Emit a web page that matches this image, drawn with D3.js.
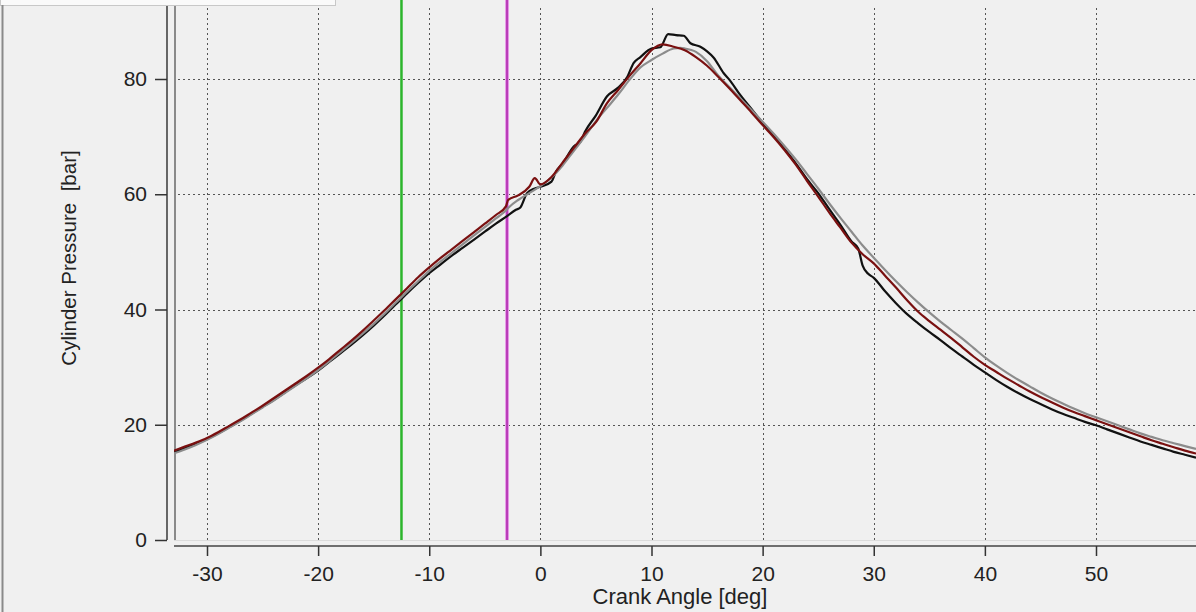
<!DOCTYPE html>
<html><head><meta charset="utf-8">
<script src="https://cdn.jsdelivr.net/npm/d3@7"></script>
<style>
html,body{margin:0;padding:0;background:#f0f0f0;}
svg{display:block;font-family:"Liberation Sans",Arial,sans-serif;}
</style></head>
<body>
<svg id="c" width="1196" height="612"></svg>
<script>
const xTicks = [-30,-20,-10,0,10,20,30,40,50];
const yTicks = [0,20,40,60,80];
const markerGreen = -12.5;
const markerMagenta = -3;

const blackAngle = [-33,-32,-31,-30,-29,-28,-27,-26,-25,-24,-23,-22,-21,-20,-19,-18,-17,-16,-15,-14,-13,-12,-11,-10,-9,-8,-7,-6,-5,-4,-3,-2.2,-1.8,-1.2,-0.5,0,1,1.4,2,3,3.6,4,5,6,7,7.8,8.4,9,10,10.8,11.5,12.2,12.9,13.5,14.4,15,15.6,16.5,17,18,19,20,21,22,23,24,25,26,27,28,28.6,29,29.5,30,31,32,33,34,35,36,37,38,39,40,41,42,43,44,45,46,47,48,49,50,51,52,53,54,55,56,57,58,59];
const blackP = [15.2,15.9,16.7,17.5,18.5,19.6,20.7,21.9,23.1,24.3,25.6,26.9,28.1,29.4,30.9,32.4,33.9,35.5,37.2,39.0,40.9,42.8,44.6,46.3,47.8,49.3,50.7,52.1,53.5,54.9,56.2,57.3,57.7,60.2,61.0,61.3,62.2,63.9,65.3,68.3,69.1,70.8,73.7,77.0,78.5,80.3,82.8,83.8,85.3,85.5,87.8,87.6,87.5,86.2,85.6,84.8,83.7,81.0,79.9,77.2,74.8,72.4,70.2,67.8,65.3,62.6,60.2,57.4,54.7,51.8,50.6,47.6,46.2,45.5,43.2,41.1,39.2,37.6,36.1,34.7,33.2,31.8,30.4,29.1,27.8,26.6,25.5,24.5,23.6,22.7,21.9,21.2,20.5,19.9,19.2,18.5,17.8,17.1,16.5,15.9,15.3,14.8,14.3];

const redAngle = [-33,-32,-31,-30,-29,-28,-27,-26,-25,-24,-23,-22,-21,-20,-19,-18,-17,-16,-15,-14,-13,-12,-11,-10,-9,-8,-7,-6,-5,-4,-3.1,-2.9,-2,-1,-0.5,0,1,2,3,4,5,6,7,8,9,10,11,12,13,14,15,16,17,18,19,20,21,22,23,24,25,26,27,28,29,30,31,32,33,34,35,36,37,38,39,40,41,42,43,44,45,46,47,48,49,50,51,52,53,54,55,56,57,58,59];
const redP = [15.5,16.2,16.9,17.7,18.7,19.8,20.9,22.1,23.3,24.6,25.9,27.2,28.5,29.9,31.4,33.0,34.6,36.3,38.1,39.9,41.8,43.7,45.6,47.3,48.9,50.4,51.9,53.4,54.9,56.4,57.9,59.0,59.8,61.3,62.8,61.7,63.0,65.5,68.0,70.5,72.5,75.8,78.1,80.5,82.7,85.0,86.0,85.6,85.0,83.8,82.3,80.4,78.4,76.3,74.2,72.0,69.9,67.6,65.1,62.3,59.6,56.8,54.2,51.6,49.6,48.0,45.9,43.8,41.6,39.6,38.0,36.5,35.0,33.4,31.8,30.4,29.2,28.0,26.9,25.8,24.8,23.9,23.0,22.2,21.5,20.8,20.1,19.4,18.7,18.0,17.3,16.7,16.1,15.5,15.0];

const grayAngle = [-33,-32,-31,-30,-29,-28,-27,-26,-25,-24,-23,-22,-21,-20,-19,-18,-17,-16,-15,-14,-13,-12,-11,-10,-9,-8,-7,-6,-5,-4,-3.2,-2.8,-2,-1,0,1,2,3,4,5,6,7,8,9,10,11,12,12.6,13,14,15,16,17,18,19,20,21,22,23,24,25,26,27,28,29,30,31,32,33,34,35,36,37,38,39,40,41,42,43,44,45,46,47,48,49,50,51,52,53,54,55,56,57,58,59];
const grayP = [15.0,15.7,16.5,17.4,18.4,19.5,20.6,21.8,23.0,24.2,25.5,26.8,28.1,29.5,31.0,32.6,34.2,35.8,37.5,39.3,41.2,43.1,44.9,46.7,48.3,49.8,51.3,52.8,54.3,55.8,57.0,57.8,59.0,60.2,61.4,62.9,65.0,67.5,70.0,72.7,75.0,77.3,79.8,82.0,83.3,84.4,85.3,85.4,85.3,84.7,83.1,80.6,78.6,76.6,74.6,72.6,70.5,68.3,66.0,63.5,61.0,58.4,55.9,53.5,51.1,49.0,46.9,44.9,43.0,41.2,39.5,37.9,36.4,34.9,33.3,31.7,30.3,29.0,27.8,26.7,25.6,24.6,23.7,22.8,22.0,21.3,20.6,19.9,19.2,18.5,17.9,17.3,16.8,16.3,15.8];

const svg = d3.select("#c");
const x = d3.scaleLinear().domain([-30,50]).range([207,1096]);
const y = d3.scaleLinear().domain([0,80]).range([540,79]);
const L = 174, R = 1196, T = 6, B = 540;
const FONT = "Liberation Sans, Arial, sans-serif";

// top white strip & left border
svg.append("rect").attr("x",0.5).attr("y",-1).attr("width",335).attr("height",6.5)
  .attr("fill","#fafafa").attr("stroke","#c8c8c8");
svg.append("line").attr("x1",2.5).attr("x2",2.5).attr("y1",5).attr("y2",612)
  .attr("stroke","#8a8a8a").attr("stroke-width",2);

// plot bottom light line
svg.append("line").attr("x1",L).attr("x2",R).attr("y1",B+0.5).attr("y2",B+0.5)
  .attr("stroke","#dcdcdc").attr("stroke-width",1);

// grid
const grid = svg.append("g").attr("stroke","#555").attr("stroke-width",1).attr("stroke-dasharray","2,3");
xTicks.forEach(t=>grid.append("line").attr("x1",Math.round(x(t))+0.5).attr("x2",Math.round(x(t))+0.5).attr("y1",T+2).attr("y2",B));
yTicks.filter(t=>t>0).forEach(t=>grid.append("line").attr("x1",L+4).attr("x2",R).attr("y1",Math.round(y(t))+0.5).attr("y2",Math.round(y(t))+0.5));

const fmt = d => String(d);

// y axis
const yAxis = d3.axisLeft(y).tickValues(yTicks).tickSize(12).tickPadding(8).tickFormat(fmt);
const gy = svg.append("g").attr("transform","translate(167,0)").call(yAxis);
gy.select(".domain").attr("d",`M0,${T}V${B}`).attr("stroke","#444").attr("stroke-width",1.6);
gy.selectAll(".tick line").attr("stroke","#333").attr("stroke-width",1.5);
gy.selectAll(".tick text").attr("font-size",21).attr("fill","#222").attr("font-family",FONT);

// plot left border line
svg.append("line").attr("x1",175).attr("x2",175).attr("y1",T).attr("y2",B)
  .attr("stroke","#8a8a8a").attr("stroke-width",2);

// x axis
const xAxis = d3.axisBottom(x).tickValues(xTicks).tickSize(10).tickPadding(10).tickFormat(fmt);
const gx = svg.append("g").attr("transform","translate(0,546)").call(xAxis);
gx.select(".domain").attr("d",`M${L},0H${R}`).attr("stroke","#444").attr("stroke-width",1.6);
gx.selectAll(".tick line").attr("stroke","#333").attr("stroke-width",1.5);
gx.selectAll(".tick text").attr("font-size",21).attr("fill","#222").attr("font-family",FONT);

// titles
svg.append("text").attr("x",680).attr("y",604).attr("text-anchor","middle").attr("font-family",FONT)
  .attr("font-size",22).attr("fill","#222").text("Crank Angle [deg]");
svg.append("text").attr("transform","translate(76,258) rotate(-90)").attr("text-anchor","middle").attr("font-family",FONT)
  .attr("font-size",20.5).attr("fill","#222").attr("xml:space","preserve").text("Cylinder Pressure  [bar]");

// marker lines
svg.append("line").attr("x1",x(markerGreen)).attr("x2",x(markerGreen)).attr("y1",0).attr("y2",B)
  .attr("stroke","#2cb52c").attr("stroke-width",2.5);
svg.append("line").attr("x1",x(markerMagenta)).attr("x2",x(markerMagenta)).attr("y1",0).attr("y2",B)
  .attr("stroke","#e89ae8").attr("stroke-width",4);
svg.append("line").attr("x1",x(markerMagenta)).attr("x2",x(markerMagenta)).attr("y1",0).attr("y2",B)
  .attr("stroke","#b83cb8").attr("stroke-width",2);

// clip
svg.append("clipPath").attr("id","clip").append("rect").attr("x",L).attr("y",0).attr("width",R-L).attr("height",B);
const plot = svg.append("g").attr("clip-path","url(#clip)");
const lineGen = d3.line().x(d=>x(d[0])).y(d=>y(d[1])).curve(d3.curveMonotoneX);
function series(a,p,color){
  plot.append("path").datum(a.map((v,i)=>[v,p[i]])).attr("d",lineGen)
    .attr("fill","none").attr("stroke",color).attr("stroke-width",2.2).attr("stroke-linejoin","round");
}
series(blackAngle,blackP,"#111111");
series(grayAngle,grayP,"#8c8c8c");
series(redAngle,redP,"#7a1010");
</script>
</body></html>
